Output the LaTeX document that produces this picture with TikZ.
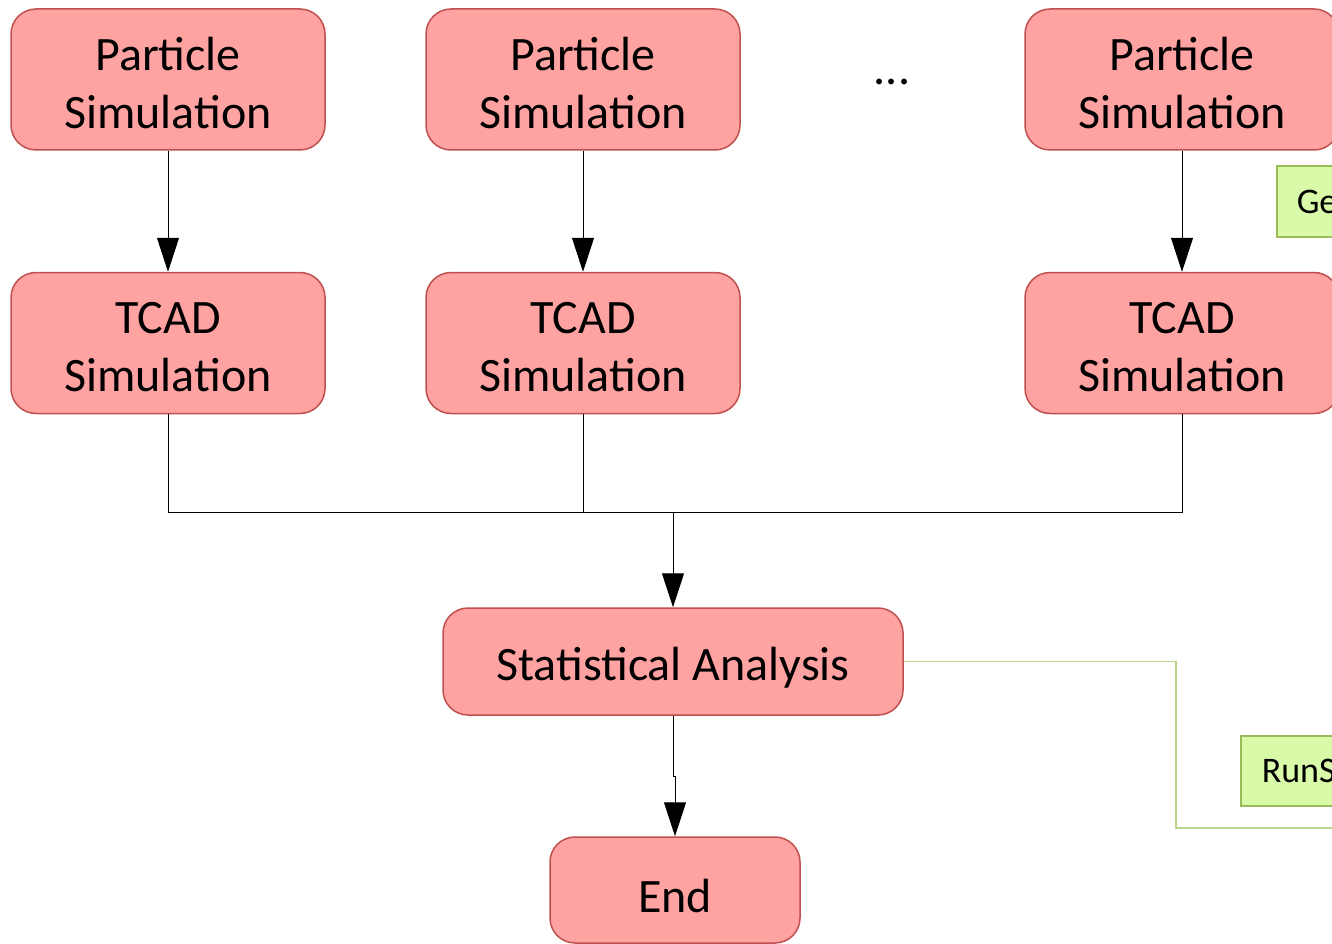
\documentclass[tikz,border=0pt]{standalone}
\usepackage{fontspec}
\setmainfont{Carlito}
\usepackage{tikz}
\usetikzlibrary{arrows.meta,positioning}
\definecolor{simfill}{HTML}{FFA2A2}
\definecolor{simdraw}{HTML}{C0504D}
\definecolor{scriptfill}{HTML}{D9FBA9}
\definecolor{scriptdraw}{HTML}{9BBB59}
\definecolor{scriptline}{HTML}{B9D48E}
\tikzset{
    >={Triangle[width=22pt,length=34pt]},
    x=1pt, y=-1pt,
    sim step/.style={rounded corners=25pt,draw=simdraw,fill=simfill,line width=1.5pt,align=center,
        font=\fontsize{48}{58}\selectfont,minimum width=314pt,minimum height=141pt,inner sep=0pt,
        text height=98pt},
    one line/.style={text height=46pt},
    script box/.style={draw=scriptdraw,fill=scriptfill,line width=1.5pt,anchor=west,align=left,
        font=\fontsize{36}{42}\selectfont,text width=100pt,minimum height=71pt,inner xsep=20pt},
    flow/.style={line width=1pt,black},
    script flow/.style={line width=1.4pt,scriptline}
}
\begin{document}
\begin{tikzpicture}
    \useasboundingbox (0,0) rectangle (1332,944);
    \clip (0,0) rectangle (1332,944);
    \fill[white] (0,0) rectangle (1332,944);
    % simulation runs
    \node[sim step] (ps1) at (168,79.5) {Particle\\Simulation};
    \node[sim step] (ps2) [right = 99.5pt of ps1] {Particle\\Simulation};
    \node[sim step] (ps3) [right = 283.5pt of ps2] {Particle\\Simulation};
    \node[font=\fontsize{48}{58}\selectfont] (dots) at (892,82) {...};
    \node[sim step] (tcad1) [below = 121pt of ps1] {TCAD\\Simulation};
    \node[sim step] (tcad2) [below = 121pt of ps2] {TCAD\\Simulation};
    \node[sim step] (tcad3) [below = 121pt of ps3] {TCAD\\Simulation};
    \node[sim step, one line, minimum width=460pt, minimum height=107pt] (stat) at (673,661.5) {Statistical Analysis};
    \node[sim step, one line, minimum width=250pt, minimum height=106pt] (end) at (675,890) {End};
    % scripts
    \node[script box] (gen) at (1276,201.5) {Ge};
    \node[script box, inner xsep=21pt, minimum height=70pt] (runs) at (1240,771) {RunS};
    \coordinate (merge) at (673,512);
    \coordinate (jog) at (673,776);
    \coordinate (runturn) at (1176,828);
    \coordinate (runend) at (1345,828);
    \draw[flow,->] (ps1) -- (tcad1);
    \draw[flow,->] (ps2) -- (tcad2);
    \draw[flow,->] (ps3) -- (tcad3);
    \draw[flow] (tcad1) |- (merge);
    \draw[flow] (tcad2) |- (merge);
    \draw[flow] (tcad3) |- (merge);
    \draw[flow,->] (merge) -- (stat);
    \draw[flow,->] (stat) -- (jog) -| (end);
    \draw[script flow] (stat) -| (runturn) -- (runend);
\end{tikzpicture}
\end{document}
